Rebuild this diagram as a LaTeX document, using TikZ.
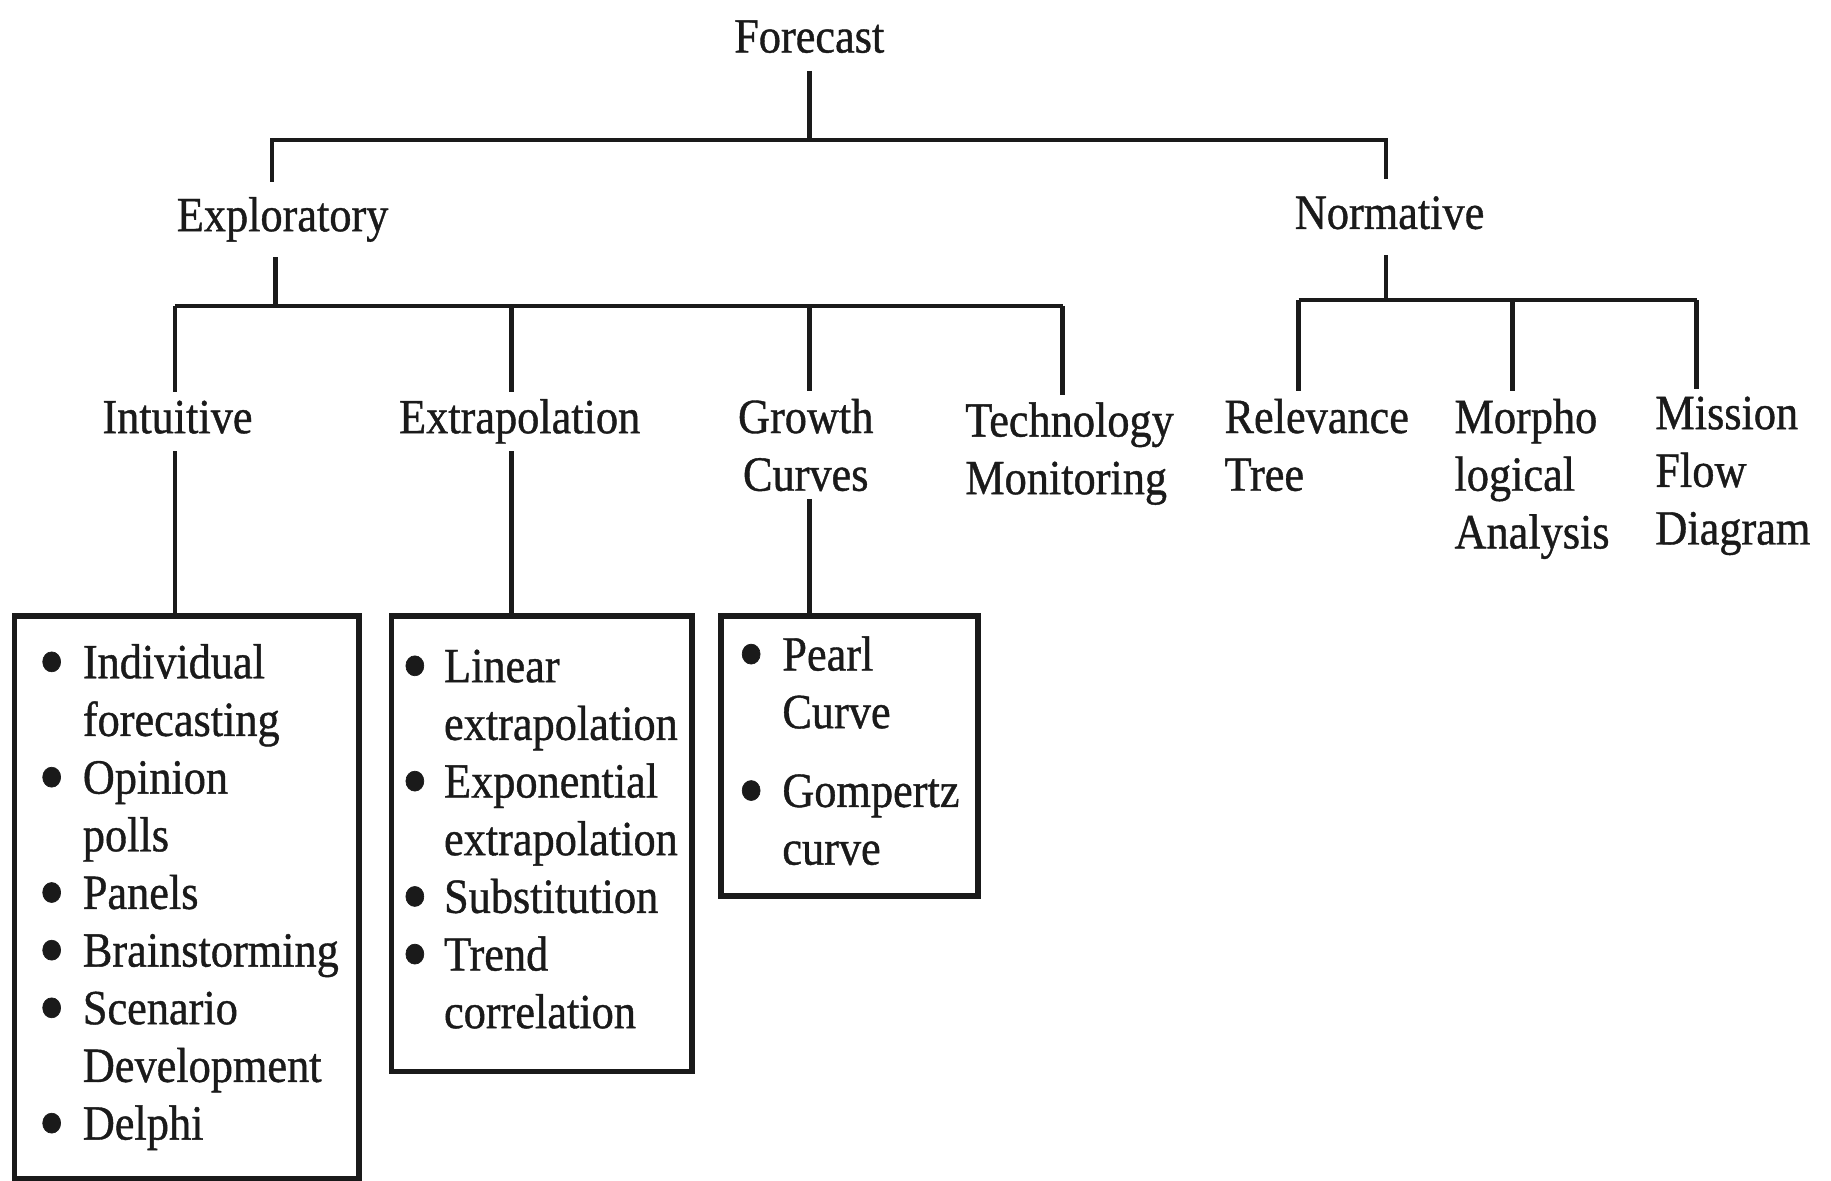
\documentclass[tikz,border=0pt]{standalone}
\usepackage{fontspec}
\setmainfont{Liberation Serif}[FakeStretch=0.9, FakeBold=0.8]
\usepackage{xcolor}
\usepackage{tikz}
\usetikzlibrary{positioning, calc}
\definecolor{inkdark}{HTML}{1A1A1A}

\tikzset{
  lbl/.style={text=inkdark, font=\fontsize{14}{16.4}\selectfont, inner xsep=0pt, inner ysep=0.07cm},
  lbltop/.style={lbl, anchor=base, text height=9.6pt, text depth=3pt},
  conn/.style={draw=inkdark, line width=1.3pt},
  listbox/.style={draw=inkdark, line width=1.6pt, anchor=north west, inner ysep=0pt, align=left,
    text=inkdark, font=\fontsize{14}{16.4}\selectfont},
}
\newcommand{\bul}{\raisebox{-0.5ex}[0pt][0pt]{\scalebox{1.7}{\textbullet}}}

\begin{document}
\begin{tikzpicture}[x=0.011677cm, y=-0.011677cm]
  \useasboundingbox (0,0) rectangle (1568,1011);

  % Top level
  \node[lbltop] (forecast) at (693,45) {Forecast};
  \node[lbltop, inner ysep=0.15cm] (explor) at (242,198) {Exploratory};
  \node[lbltop, inner ysep=0.15cm] (norm) at (1190,196) {Normative};

  % Exploratory methods
  \node[lbltop] (intuit) at (152,371) {Intuitive};
  \node[lbltop] (extrap) at (445,371) {Extrapolation};
  \node[lbl, anchor=north, align=center] (growth) at (690,335) {Growth\\Curves};
  \node[lbl, anchor=north west, align=left] (techmon) at (826,338) {Technology\\Monitoring};

  % Normative methods
  \node[lbl, anchor=north west, align=left] (relev) at (1048,335) {Relevance\\Tree};
  \node[lbl, anchor=north west, align=left] (morph) at (1245,335) {Morpho\\logical\\Analysis};
  \node[lbl, anchor=north west, align=left] (mission) at (1417,333) {Mission\\Flow\\Diagram};

  % Technique boxes
  \node[listbox, inner xsep=0.24cm, text width=2.965cm, minimum height=5.628cm] (intbox) at (10,525) {%
    \begin{tabular}{@{}c@{\hspace{0.18cm}}l@{}}
      \bul & Individual\\
           & forecasting\\
      \bul & Opinion\\
           & polls\\
      \bul & Panels\\
      \bul & Brainstorming\\
      \bul & Scenario\\
           & Development\\
      \bul & Delphi
    \end{tabular}};
  \node[listbox, inner xsep=0.1cm, text width=2.8cm, minimum height=4.554cm] (extbox) at (333,525) {%
    \begin{tabular}{@{}c@{\hspace{0.16cm}}l@{}}
      \bul & Linear\\
           & extrapolation\\
      \bul & Exponential\\
           & extrapolation\\
      \bul & Substitution\\
      \bul & Trend\\
           & correlation
    \end{tabular}};
  \node[listbox, inner xsep=0.17cm, text width=2.229cm, minimum height=2.802cm] (grobox) at (615,525) {%
    \begin{tabular}{@{}c@{\hspace{0.18cm}}l@{}}
      \bul & Pearl\\
           & Curve\\[6pt]
      \bul & Gompertz\\
           & curve
    \end{tabular}};

  % Top level connectors
  \coordinate (topL) at (233,120);
  \coordinate (topR) at (1187,120);
  \draw[conn] (forecast.south) -- (forecast.south |- topL);
  \draw[conn] (topL |- explor.north) -- (topL) -- (topR) -- (topR |- norm.north);

  % Exploratory branch
  \coordinate (expbar) at (236,262);
  \coordinate (colA) at (150,262);
  \coordinate (colB) at (438,262);
  \coordinate (colC) at (693,262);
  \coordinate (colD) at (910,262);
  \draw[conn] (explor.south -| expbar) -- (expbar);
  \draw[conn] (colA) -- (colD);
  \foreach \c/\n in {colA/intuit, colB/extrap, colC/growth, colD/techmon}
    \draw[conn] (\c) -- (\c |- \n.north);

  % Normative branch
  \coordinate (norbar) at (1187,257);
  \coordinate (colE) at (1112,257);
  \coordinate (colF) at (1295,257);
  \coordinate (colG) at (1453,257);
  \draw[conn] (norm.south -| norbar) -- (norbar);
  \draw[conn] (colE) -- (colG);
  \foreach \c/\n in {colE/relev, colF/morph, colG/mission}
    \draw[conn] (\c) -- (\c |- \n.north);

  % Into the boxes
  \draw[conn] (intuit.south -| colA) -- (colA |- intbox.north);
  \draw[conn] (extrap.south -| colB) -- (colB |- extbox.north);
  \draw[conn] (growth.south -| colC) -- (colC |- grobox.north);
\end{tikzpicture}
\end{document}
